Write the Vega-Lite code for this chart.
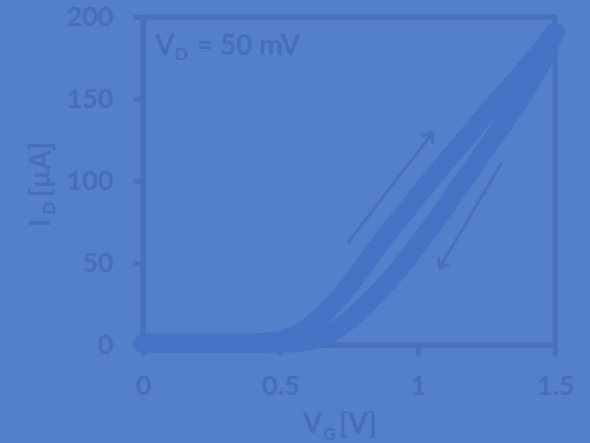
{
  "$schema": "https://vega.github.io/schema/vega-lite/v6.json",
  "width": 412,
  "height": 328,
  "autosize": {"type": "none"},
  "padding": {"left": 143, "top": 17, "right": 35, "bottom": 98},
  "background": "#547fcb",
  "config": {
    "view": {"stroke": "#4870bd", "strokeWidth": 5},
    "font": "Lato",
    "axis": {
      "grid": false,
      "domainColor": "#4870bd",
      "domainWidth": 5,
      "tickColor": "#4870bd",
      "tickWidth": 5,
      "tickSize": 10,
      "labelFont": "Lato",
      "labelFontWeight": "bold",
      "labelFontSize": 27,
      "labelColor": "#466eb9",
      "title": null
    }
  },
  "datasets": {
    "curves": [
      {"sweep": "up", "seq": 1, "V": 0.0, "I": 1},
      {"sweep": "up", "seq": 2, "V": 0.05, "I": 1},
      {"sweep": "up", "seq": 3, "V": 0.1, "I": 1},
      {"sweep": "up", "seq": 4, "V": 0.15, "I": 1},
      {"sweep": "up", "seq": 5, "V": 0.2, "I": 1},
      {"sweep": "up", "seq": 6, "V": 0.25, "I": 1},
      {"sweep": "up", "seq": 7, "V": 0.3, "I": 1},
      {"sweep": "up", "seq": 8, "V": 0.35, "I": 1},
      {"sweep": "up", "seq": 9, "V": 0.4, "I": 1.2},
      {"sweep": "up", "seq": 10, "V": 0.45, "I": 1.6},
      {"sweep": "up", "seq": 11, "V": 0.5, "I": 2.8},
      {"sweep": "up", "seq": 12, "V": 0.55, "I": 5.5},
      {"sweep": "up", "seq": 13, "V": 0.6, "I": 10.5},
      {"sweep": "up", "seq": 14, "V": 0.65, "I": 17.5},
      {"sweep": "up", "seq": 15, "V": 0.7, "I": 26},
      {"sweep": "up", "seq": 16, "V": 0.75, "I": 36},
      {"sweep": "up", "seq": 17, "V": 0.8, "I": 47},
      {"sweep": "up", "seq": 18, "V": 0.85, "I": 59},
      {"sweep": "up", "seq": 19, "V": 0.9, "I": 70},
      {"sweep": "up", "seq": 20, "V": 0.95, "I": 80},
      {"sweep": "up", "seq": 21, "V": 1.0, "I": 91},
      {"sweep": "up", "seq": 22, "V": 1.05, "I": 101},
      {"sweep": "up", "seq": 23, "V": 1.1, "I": 111},
      {"sweep": "up", "seq": 24, "V": 1.15, "I": 121},
      {"sweep": "up", "seq": 25, "V": 1.2, "I": 131},
      {"sweep": "up", "seq": 26, "V": 1.25, "I": 141},
      {"sweep": "up", "seq": 27, "V": 1.3, "I": 151},
      {"sweep": "up", "seq": 28, "V": 1.35, "I": 160},
      {"sweep": "up", "seq": 29, "V": 1.4, "I": 170},
      {"sweep": "up", "seq": 30, "V": 1.45, "I": 180},
      {"sweep": "up", "seq": 31, "V": 1.5, "I": 191},
      {"sweep": "down", "seq": 1, "V": 1.5, "I": 191},
      {"sweep": "down", "seq": 2, "V": 1.45, "I": 172},
      {"sweep": "down", "seq": 3, "V": 1.4, "I": 157},
      {"sweep": "down", "seq": 4, "V": 1.35, "I": 144},
      {"sweep": "down", "seq": 5, "V": 1.3, "I": 132},
      {"sweep": "down", "seq": 6, "V": 1.25, "I": 120},
      {"sweep": "down", "seq": 7, "V": 1.2, "I": 108},
      {"sweep": "down", "seq": 8, "V": 1.15, "I": 96},
      {"sweep": "down", "seq": 9, "V": 1.1, "I": 84},
      {"sweep": "down", "seq": 10, "V": 1.05, "I": 72},
      {"sweep": "down", "seq": 11, "V": 1.0, "I": 61},
      {"sweep": "down", "seq": 12, "V": 0.95, "I": 50},
      {"sweep": "down", "seq": 13, "V": 0.9, "I": 40},
      {"sweep": "down", "seq": 14, "V": 0.85, "I": 31},
      {"sweep": "down", "seq": 15, "V": 0.8, "I": 23},
      {"sweep": "down", "seq": 16, "V": 0.75, "I": 15},
      {"sweep": "down", "seq": 17, "V": 0.7, "I": 9},
      {"sweep": "down", "seq": 18, "V": 0.65, "I": 4.5},
      {"sweep": "down", "seq": 19, "V": 0.6, "I": 2.2},
      {"sweep": "down", "seq": 20, "V": 0.55, "I": 1.4},
      {"sweep": "down", "seq": 21, "V": 0.5, "I": 1},
      {"sweep": "down", "seq": 22, "V": 0.4, "I": 1},
      {"sweep": "down", "seq": 23, "V": 0.3, "I": 1},
      {"sweep": "down", "seq": 24, "V": 0.2, "I": 1},
      {"sweep": "down", "seq": 25, "V": 0.1, "I": 1},
      {"sweep": "down", "seq": 26, "V": 0.0, "I": 1}
    ],
    "arrows": [
      {"name": "up", "x1": 0.745, "y1": 62.2, "x2": 1.0545, "y2": 129.3},
      {"name": "down", "x1": 1.305, "y1": 111, "x2": 1.08, "y2": 47}
    ]
  },
  "layer": [
    {
      "data": {"name": "curves"},
      "mark": {"type": "line", "strokeWidth": 19, "strokeCap": "round", "strokeJoin": "round", "color": "#4673c5"},
      "encoding": {
        "x": {"field": "V", "type": "quantitative", "scale": {"domain": [0, 1.5], "nice": false},
              "axis": {"values": [0, 0.5, 1, 1.5], "format": "~g", "labelPadding": 18, "labelFlush": false}},
        "y": {"field": "I", "type": "quantitative", "scale": {"domain": [0, 200], "nice": false},
              "axis": {"values": [0, 50, 100, 150, 200], "labelPadding": 20, "labelFlush": false}},
        "detail": {"field": "sweep"},
        "order": {"field": "seq", "type": "quantitative"}
      }
    },
    {
      "data": {"name": "arrows"},
      "mark": {"type": "rule", "strokeWidth": 3, "color": "#4870bd"},
      "encoding": {
        "x": {"field": "x1", "type": "quantitative"},
        "y": {"field": "y1", "type": "quantitative"},
        "x2": {"field": "x2"},
        "y2": {"field": "y2"}
      }
    },
    {
      "data": {"name": "arrows"},
      "transform": [{"filter": "datum.name == 'up'"}],
      "mark": {"type": "point", "shape": "M -0.75 1 L 0 0 L 0.75 1", "filled": false, "strokeWidth": 3, "color": "#4870bd", "opacity": 1, "size": 300, "angle": 38},
      "encoding": {
        "x": {"field": "x2", "type": "quantitative"},
        "y": {"field": "y2", "type": "quantitative"}
      }
    },
    {
      "data": {"name": "arrows"},
      "transform": [{"filter": "datum.name == 'down'"}],
      "mark": {"type": "point", "shape": "M -0.75 1 L 0 0 L 0.75 1", "filled": false, "strokeWidth": 3, "color": "#4870bd", "opacity": 1, "size": 300, "angle": 211},
      "encoding": {
        "x": {"field": "x2", "type": "quantitative"},
        "y": {"field": "y2", "type": "quantitative"}
      }
    },
    {
      "data": {"values": [
        {"t": "V", "x": 0.044, "y": 176.8},
        {"t": "= 50 mV", "x": 0.196, "y": 176.8},
        {"t": "V", "x": 0.582, "y": -53.7},
        {"t": "[V]", "x": 0.714, "y": -53.7}
      ]},
      "mark": {"type": "text", "font": "Lato", "fontWeight": "bold", "fontSize": 28, "align": "left", "baseline": "alphabetic", "color": "#466eb9"},
      "encoding": {
        "x": {"field": "x", "type": "quantitative"},
        "y": {"field": "y", "type": "quantitative"},
        "text": {"field": "t"}
      }
    },
    {
      "data": {"values": [
        {"t": "D", "x": 0.116, "y": 173.8},
        {"t": "G", "x": 0.655, "y": -57.9}
      ]},
      "mark": {"type": "text", "font": "Lato", "fontWeight": "bold", "fontSize": 17.5, "align": "left", "baseline": "alphabetic", "color": "#466eb9"},
      "encoding": {
        "x": {"field": "x", "type": "quantitative"},
        "y": {"field": "y", "type": "quantitative"},
        "text": {"field": "t"}
      }
    },
    {
      "data": {"values": [
        {"t": "I", "x": -0.338, "y": 72},
        {"t": "[µA]", "x": -0.338, "y": 90.2}
      ]},
      "mark": {"type": "text", "font": "Lato", "fontWeight": "bold", "fontSize": 28, "align": "left", "baseline": "alphabetic", "angle": 270, "color": "#466eb9"},
      "encoding": {
        "x": {"field": "x", "type": "quantitative"},
        "y": {"field": "y", "type": "quantitative"},
        "text": {"field": "t"}
      }
    },
    {
      "data": {"values": [
        {"t": "D", "x": -0.32, "y": 79.3}
      ]},
      "mark": {"type": "text", "font": "Lato", "fontWeight": "bold", "fontSize": 17.5, "align": "left", "baseline": "alphabetic", "angle": 270, "color": "#466eb9"},
      "encoding": {
        "x": {"field": "x", "type": "quantitative"},
        "y": {"field": "y", "type": "quantitative"},
        "text": {"field": "t"}
      }
    }
  ]
}
